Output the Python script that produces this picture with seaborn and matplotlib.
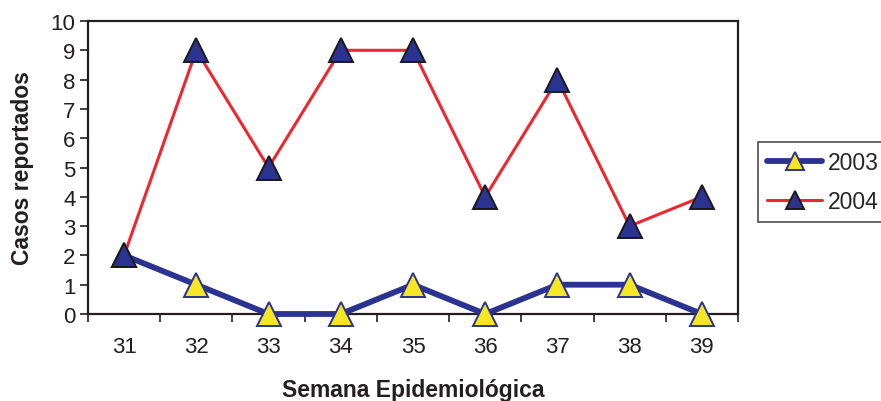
import matplotlib
matplotlib.use("Agg")
import matplotlib.pyplot as plt
import seaborn as sns
import pandas as pd
from matplotlib.ticker import FixedLocator

semanas = [31, 32, 33, 34, 35, 36, 37, 38, 39]
casos_2003 = [2, 1, 0, 0, 1, 0, 1, 1, 0]
casos_2004 = [2, 9, 5, 9, 9, 4, 8, 3, 4]
series_names = ["2003", "2004"]

sns.set_style("white")
plt.rcParams["font.family"] = ["Liberation Sans", "DejaVu Sans"]

navy = "#2B3391"
yellow = "#F7E623"
red = "#EE2630"
ink = "#231f20"

fig = plt.figure(figsize=(8.81, 4.02), dpi=100)
ax = fig.add_axes([88 / 881, 1 - 315 / 402, (738 - 88) / 881, (315 - 22) / 402])

df03 = pd.DataFrame({"semana": semanas, "casos": casos_2003})
df04 = pd.DataFrame({"semana": semanas, "casos": casos_2004})

sns.lineplot(data=df03, x="semana", y="casos", ax=ax, color=navy, linewidth=4.2,
             marker="^", markersize=17, markerfacecolor=yellow,
             markeredgecolor=navy, markeredgewidth=1.4, clip_on=False,
             label=series_names[0], zorder=3)
sns.lineplot(data=df04, x="semana", y="casos", ax=ax, color=red, linewidth=2.2,
             marker="^", markersize=17, markerfacecolor=navy,
             markeredgecolor="#1a1a1a", markeredgewidth=1.4, clip_on=False,
             label=series_names[1], zorder=4)

ax.set_xlim(30.5, 39.5)
ax.set_ylim(0, 10)
ax.set_xticks(semanas)
ax.set_xticklabels([str(s) for s in semanas])
ax.xaxis.set_minor_locator(FixedLocator([s - 0.5 for s in semanas] + [39.5]))
ax.set_yticks(range(0, 11))

ax.tick_params(axis="x", which="major", length=0, pad=16, labelsize=16, colors=ink)
ax.tick_params(axis="x", which="minor", bottom=True, length=6, width=1.2, direction="out", color=ink)
ax.tick_params(axis="y", which="major", left=True, length=6, width=1.2, direction="out",
               pad=3, labelsize=16, colors=ink)

for sp in ax.spines.values():
    sp.set_color(ink)
    sp.set_linewidth(1.6)
    sp.set_visible(True)

ax.set_xlabel("Semana Epidemiológica", fontsize=16.5, fontweight="bold", color=ink)
ax.xaxis.set_label_coords(0.5, -0.218)
ax.set_ylabel("Casos reportados", fontsize=16.5, fontweight="bold", color=ink, labelpad=12)

ax.legend_.remove()
handles, labels = ax.get_legend_handles_labels()
leg = fig.legend(handles, labels, loc="upper left",
                 bbox_to_anchor=(758 / 881, 1 - 143 / 402),
                 frameon=True, fancybox=False, fontsize=16.5,
                 handlelength=2.4, handletextpad=0.25, labelspacing=0.7,
                 borderpad=0.4, borderaxespad=0)
leg.get_frame().set_edgecolor(ink)
leg.get_frame().set_linewidth(1.2)
for h in leg.legend_handles:
    h.set_markersize(13)

fig.savefig("out.png", dpi=100)
